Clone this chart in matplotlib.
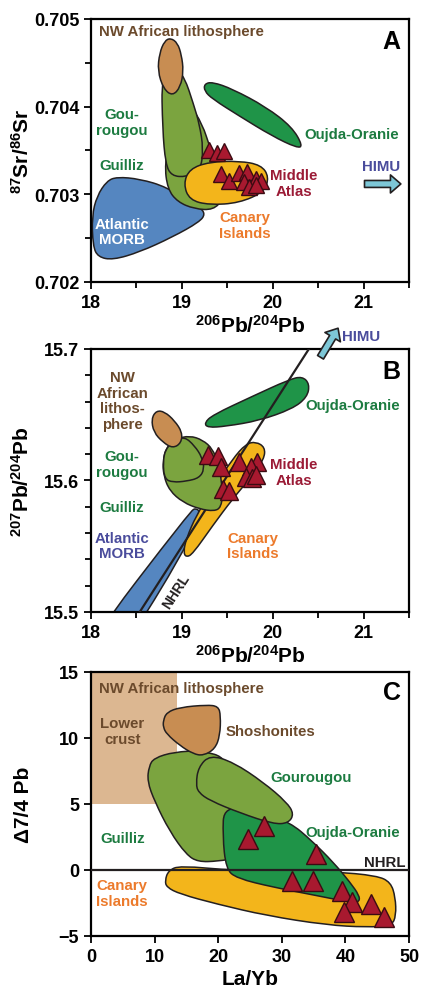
import numpy as np
import matplotlib.pyplot as plt
from matplotlib.path import Path
from matplotlib.patches import PathPatch, Rectangle
from matplotlib.ticker import MultipleLocator

plt.rcParams['font.family'] = 'Liberation Sans'
plt.rcParams['font.weight'] = 'bold'
plt.rcParams['axes.labelweight'] = 'bold'
plt.rcParams['mathtext.fontset'] = 'custom'
plt.rcParams['mathtext.rm'] = 'Liberation Sans:bold'
plt.rcParams['mathtext.default'] = 'rm'

# colours
BROWN = "#c88d52"
LGREEN = "#7ba43f"
DGREEN = "#1f9448"
BLUE = "#5586c0"
YELLOW = "#f3b51b"
TAN = "#dcb791"
RED = "#a8192f"
T_BROWN = "#6b4a2c"
T_GREEN = "#1c7b40"
T_ORANGE = "#ec7a2b"
T_BLUE = "#4a4c9c"
T_RED = "#9b1b36"
ARROW = "#7dc7d7"

# ---------------- panel A : 206Pb/204Pb vs 87Sr/86Sr ----------------
a_morb_x = [18.537, 18.285, 18.175, 18.066, 18.011, 18.022, 18.077, 18.241, 18.537, 18.898, 19.193, 19.259, 19.193, 18.832]
a_morb_y = [0.703175, 0.703198, 0.703152, 0.702981, 0.702753, 0.702411, 0.702285, 0.702251, 0.702342, 0.702513, 0.702684, 0.702776, 0.702856, 0.703084]
a_guil_x = [19.084, 19.226, 19.314, 19.434, 19.456, 19.347, 19.139, 18.953, 18.843, 18.810, 18.887]
a_guil_y = [0.704030, 0.703802, 0.703517, 0.703232, 0.702947, 0.702821, 0.702833, 0.702913, 0.703061, 0.703346, 0.703745]
a_gour_x = [18.777, 18.788, 18.821, 18.887, 19.051, 19.204, 19.237, 19.193, 19.128, 19.029, 18.920]
a_gour_y = [0.704373, 0.703745, 0.703346, 0.703209, 0.703198, 0.703266, 0.703517, 0.703802, 0.704030, 0.704338, 0.704453]
a_nwa_x = [18.876, 18.953, 18.996, 19.018, 18.985, 18.898, 18.799, 18.734, 18.755, 18.810]
a_nwa_y = [0.704783, 0.704726, 0.704589, 0.704407, 0.704224, 0.704122, 0.704202, 0.704407, 0.704612, 0.704749]
a_oujda_x = [19.248, 19.336, 19.555, 19.927, 20.212, 20.332, 20.267, 19.993, 19.631, 19.336, 19.248]
a_oujda_y = [0.704259, 0.704281, 0.704202, 0.703996, 0.703768, 0.703551, 0.703529, 0.703665, 0.703894, 0.704088, 0.704179]
a_canary_x = [19.018, 19.084, 19.303, 19.631, 19.872, 19.960, 19.905, 19.631, 19.303, 19.084]
a_canary_y = [0.703118, 0.703289, 0.703369, 0.703380, 0.703335, 0.703198, 0.703027, 0.702901, 0.702878, 0.702935]
a_atlas_x = [19.303, 19.383, 19.460, 19.431, 19.522, 19.631, 19.722, 19.679, 19.814, 19.869, 19.741, 19.818]
a_atlas_y = [0.703509, 0.703468, 0.703491, 0.703229, 0.703152, 0.703243, 0.703255, 0.703137, 0.703175, 0.703152, 0.703084, 0.703107]
a_himu = [(21.01, 0.703118), (21.41, 0.703118)]

# ---------------- panel B : 206Pb/204Pb vs 207Pb/204Pb ----------------
b_morb_x = [17.91, 19.095, 19.161, 19.204, 19.040, 18.35, 18.13]
b_morb_y = [15.47, 15.5768, 15.5791, 15.5753, 15.5479, 15.47, 15.47]
b_canary_x = [19.048, 19.120, 19.339, 19.558, 19.777, 19.905, 19.916, 19.814, 19.705, 19.558, 19.339, 19.157, 19.048, 19.018]
b_canary_y = [15.5416, 15.5441, 15.5656, 15.5859, 15.6037, 15.6163, 15.6252, 15.6295, 15.6278, 15.6163, 15.5935, 15.5732, 15.5555, 15.5454]
b_guil_x = [18.792, 18.829, 18.938, 19.084, 19.230, 19.339, 19.394, 19.431, 19.449, 19.431, 19.358, 19.193, 19.011, 18.865, 18.799]
b_guil_y = [15.6151, 15.6252, 15.6316, 15.6341, 15.6308, 15.6240, 15.6138, 15.6024, 15.5897, 15.5796, 15.5766, 15.5783, 15.5834, 15.5922, 15.6037]
b_gour_x = [18.792, 18.821, 18.920, 19.029, 19.139, 19.223, 19.248, 19.193, 19.048, 18.901, 18.810]
b_gour_y = [15.6138, 15.6240, 15.6303, 15.6333, 15.6265, 15.6176, 15.6087, 15.6019, 15.5994, 15.5986, 15.6011]
b_nwa_x = [18.665, 18.719, 18.810, 18.920, 19.004, 18.993, 18.901, 18.792, 18.690]
b_nwa_y = [15.6468, 15.6531, 15.6523, 15.6455, 15.6367, 15.6285, 15.6245, 15.6290, 15.6367]
b_oujda_x = [19.248, 19.339, 19.777, 20.179, 20.325, 20.406, 20.379, 20.215, 19.850, 19.486, 19.284]
b_oujda_y = [15.6437, 15.6498, 15.6640, 15.6767, 15.6792, 15.6734, 15.6633, 15.6544, 15.6455, 15.6412, 15.6402]
b_atlas_x = [19.292, 19.394, 19.431, 19.631, 19.832, 19.763, 19.705, 19.777, 19.814, 19.449, 19.522]
b_atlas_y = [15.6194, 15.6189, 15.6100, 15.6138, 15.6138, 15.6103, 15.6024, 15.6017, 15.6042, 15.5935, 15.5922]
b_nhrl_x = [18.537, 20.398]
b_nhrl_y = [15.5, 15.7]
b_himu = [(20.526, 15.6937), (20.719, 15.7158)]

# ---------------- panel C : La/Yb vs D7/4 Pb ----------------
c_lower_crust = (0, 5, 13.6, 15)  # x0, y0, x1, y1
c_canary_x = [11.64, 12.16, 13.99, 22.38, 38.10, 44.92, 47.12, 47.85, 47.96, 47.27, 43.34, 37.05, 27.62, 19.76, 13.99, 11.90]
c_canary_y = [-0.81, -0.05, 0.33, -0.05, -0.13, -0.43, -0.93, -2.07, -3.46, -4.22, -4.34, -4.17, -3.46, -2.58, -1.82, -1.31]
c_guil_x = [9.12, 9.91, 13.11, 17.30, 21.49, 22.54, 23.06, 19.92, 16.83, 14.99, 12.37, 10.01, 8.86]
c_guil_y = [7.85, 8.48, 8.94, 9.04, 8.48, 5.45, 0.91, 0.66, 0.61, 1.16, 2.93, 5.20, 6.72]
c_oujda_x = [20.91, 26.57, 31.29, 34.70, 38.10, 40.72, 42.19, 42.19, 41.25, 35.48, 28.67, 22.90, 21.23, 20.70]
c_oujda_y = [4.87, 4.37, 3.61, 2.22, 0.58, -0.93, -1.94, -2.40, -2.50, -1.94, -1.31, -0.63, 0.08, 2.60]
c_gour_x = [16.51, 16.88, 18.71, 22.38, 27.10, 30.77, 31.92, 31.03, 28.67, 23.43, 18.71, 16.88]
c_gour_y = [6.52, 7.78, 8.71, 8.16, 6.64, 5.13, 4.24, 3.54, 3.48, 4.32, 5.25, 5.88]
c_shosh_x = [11.37, 11.90, 13.99, 18.19, 20.02, 20.39, 20.28, 19.50, 17.66, 16.09, 13.99, 11.90, 11.37]
c_shosh_y = [11.31, 11.94, 12.32, 12.50, 12.40, 11.69, 10.18, 9.17, 8.66, 8.79, 9.42, 10.30, 10.81]
c_atlas_x = [24.74, 27.20, 35.38, 31.66, 34.96, 39.41, 40.99, 39.78, 44.03, 46.07]
c_atlas_y = [2.35, 3.31, 1.21, -0.81, -0.81, -1.57, -2.45, -3.21, -2.58, -3.56]
c_nhrl_y = 0


def field(ax, xs, ys, color, z):
    # smooth closed outline: vertices used as quadratic bezier control points
    pts = np.column_stack([xs, ys])
    mids = (pts + np.roll(pts, -1, axis=0)) / 2
    verts = [mids[-1]]
    codes = [Path.MOVETO]
    for p, m in zip(pts, mids):
        verts += [p, m]
        codes += [Path.CURVE3, Path.CURVE3]
    verts.append(mids[-1])
    codes.append(Path.CLOSEPOLY)
    ax.add_patch(PathPatch(Path(verts, codes), facecolor=color, edgecolor="#231f20",
                           linewidth=1.1, zorder=z))


def triangles(ax, xs, ys, size=12.5):
    ax.plot(xs, ys, linestyle="none", marker="^", markersize=size, markerfacecolor=RED,
            markeredgecolor="#3b0b12", markeredgewidth=1.0, zorder=10)


def himu(ax, tail, head):
    ax.annotate("", xy=head, xytext=tail, annotation_clip=False,
                arrowprops=dict(arrowstyle="simple,tail_width=0.5,head_width=1.3,head_length=0.75",
                                facecolor=ARROW, edgecolor="#231f20", linewidth=1.2,
                                shrinkA=0, shrinkB=0, mutation_scale=10))


def style(ax):
    for s in ax.spines.values():
        s.set_linewidth(1.6)
    ax.tick_params(which="both", direction="out", width=1.3, labelsize=13)
    ax.tick_params(which="major", length=5)
    ax.tick_params(which="minor", length=4)
    ax.yaxis.set_label_coords(-0.183, 0.5)


LBL = 10.8
fig = plt.figure(figsize=(4.23, 9.87), dpi=100)

# ---- A ----
ax = fig.add_axes([0.215, 0.7133, 0.752, 0.2665])
field(ax, a_morb_x, a_morb_y, BLUE, 1)
field(ax, a_guil_x, a_guil_y, LGREEN, 2)
field(ax, a_gour_x, a_gour_y, LGREEN, 3)
field(ax, a_nwa_x, a_nwa_y, BROWN, 4)
field(ax, a_oujda_x, a_oujda_y, DGREEN, 2)
field(ax, a_canary_x, a_canary_y, YELLOW, 5)
triangles(ax, a_atlas_x, a_atlas_y, 12)
himu(ax, a_himu[0], a_himu[1])
ax.set_xlim(18, 21.5)
ax.set_ylim(0.702, 0.705)
ax.xaxis.set_major_locator(MultipleLocator(1))
ax.xaxis.set_minor_locator(MultipleLocator(0.5))
ax.yaxis.set_major_locator(MultipleLocator(0.001))
ax.yaxis.set_minor_locator(MultipleLocator(0.0005))
ax.yaxis.set_major_formatter(plt.FormatStrFormatter("%.3f"))
ax.set_xlabel(r"$^{206}$Pb/$^{204}$Pb", fontsize=15, labelpad=2)
ax.set_ylabel(r"$^{87}$Sr/$^{86}$Sr", fontsize=15)
style(ax)
ax.text(0.946, 0.917, "A", transform=ax.transAxes, fontsize=18, ha="center", va="center")
kw = dict(fontsize=LBL, ha="center", va="center", linespacing=1.15)
ax.text(18.993, 0.704867, "NW African lithosphere", color=T_BROWN, **kw)
ax.text(18.336, 0.703822, "Gou-\nrougou", color=T_GREEN, **kw)
ax.text(18.336, 0.703338, "Guilliz", color=T_GREEN, **kw)
ax.text(20.869, 0.703688, "Oujda-Oranie", color=T_GREEN, **kw)
ax.text(21.197, 0.703327, "HIMU", color=T_BLUE, **kw)
ax.text(20.234, 0.703129, "Middle\nAtlas", color=T_RED, **kw)
ax.text(18.343, 0.702574, "Atlantic\nMORB", color="white", zorder=6, **kw)
ax.text(19.697, 0.702650, "Canary\nIslands", color=T_ORANGE, **kw)

# ---- B ----
ax = fig.add_axes([0.215, 0.379, 0.752, 0.2664])
field(ax, b_morb_x, b_morb_y, BLUE, 1)
field(ax, b_canary_x, b_canary_y, YELLOW, 2)
field(ax, b_oujda_x, b_oujda_y, DGREEN, 2)
ax.plot(b_nhrl_x, b_nhrl_y, color="#231f20", linewidth=1.6, zorder=3)
field(ax, b_guil_x, b_guil_y, LGREEN, 4)
field(ax, b_gour_x, b_gour_y, LGREEN, 5)
field(ax, b_nwa_x, b_nwa_y, BROWN, 6)
triangles(ax, b_atlas_x, b_atlas_y, 13)
himu(ax, b_himu[0], b_himu[1])
ax.set_xlim(18, 21.5)
ax.set_ylim(15.5, 15.7)
ax.xaxis.set_major_locator(MultipleLocator(1))
ax.xaxis.set_minor_locator(MultipleLocator(0.5))
ax.yaxis.set_major_locator(MultipleLocator(0.1))
ax.yaxis.set_minor_locator(MultipleLocator(0.02))
ax.yaxis.set_major_formatter(plt.FormatStrFormatter("%.1f"))
ax.set_xlabel(r"$^{206}$Pb/$^{204}$Pb", fontsize=15, labelpad=2)
ax.set_ylabel(r"$^{207}$Pb/$^{204}$Pb", fontsize=15)
style(ax)
ax.text(0.946, 0.917, "B", transform=ax.transAxes, fontsize=18, ha="center", va="center")
ax.text(18.343, 15.6607, "NW\nAfrican\nlithos-\nphere", color=T_BROWN, **kw)
ax.text(18.336, 15.6125, "Gou-\nrougou", color=T_GREEN, **kw)
ax.text(18.343, 15.5801, "Guilliz", color=T_GREEN, **kw)
ax.text(18.343, 15.5504, "Atlantic\nMORB", color=T_BLUE, **kw)
ax.text(20.880, 15.6574, "Oujda-Oranie", color=T_GREEN, **kw)
ax.text(20.975, 15.7097, "HIMU", color=T_BLUE, **kw)
ax.text(20.234, 15.6062, "Middle\nAtlas", color=T_RED, **kw)
ax.text(19.785, 15.5504, "Canary\nIslands", color=T_ORANGE, **kw)
ax.text(18.938, 15.5162, "NHRL", color="#231f20", fontsize=10, rotation=57,
        ha="center", va="center")

# ---- C ----
ax = fig.add_axes([0.215, 0.0507, 0.752, 0.2675])
x0, y0, x1, y1 = c_lower_crust
ax.add_patch(Rectangle((x0, y0), x1 - x0, y1 - y0, facecolor=TAN, edgecolor="none", zorder=0))
field(ax, c_canary_x, c_canary_y, YELLOW, 1)
field(ax, c_guil_x, c_guil_y, LGREEN, 2)
field(ax, c_oujda_x, c_oujda_y, DGREEN, 3)
field(ax, c_gour_x, c_gour_y, LGREEN, 4)
field(ax, c_shosh_x, c_shosh_y, BROWN, 5)
ax.axhline(c_nhrl_y, color="#231f20", linewidth=1.6, zorder=6)
triangles(ax, c_atlas_x, c_atlas_y, 14)
ax.set_xlim(0, 50)
ax.set_ylim(-5, 15)
ax.xaxis.set_major_locator(MultipleLocator(10))
ax.yaxis.set_major_locator(MultipleLocator(5))
ax.set_xlabel("La/Yb", fontsize=15, labelpad=3)
ax.set_ylabel("\u03947/4 Pb", fontsize=15)
style(ax)
ax.text(0.946, 0.923, "C", transform=ax.transAxes, fontsize=18, ha="center", va="center")
ax.text(14.26, 13.76, "NW African lithosphere", color=T_BROWN, **kw)
ax.text(4.92, 10.55, "Lower\ncrust", color=T_BROWN, **kw)
ax.text(28.25, 10.55, "Shoshonites", color=T_BROWN, **kw)
ax.text(34.54, 7.07, "Gourougou", color=T_GREEN, **kw)
ax.text(41.14, 2.90, "Oujda-Oranie", color=T_GREEN, **kw)
ax.text(4.92, 2.42, "Guilliz", color=T_GREEN, **kw)
ax.text(4.92, -1.74, "Canary\nIslands", color=T_ORANGE, **kw)
ax.text(49.4, 0.6, "NHRL", color="#231f20", fontsize=LBL, ha="right", va="center")

fig.savefig("out.png", dpi=100)
